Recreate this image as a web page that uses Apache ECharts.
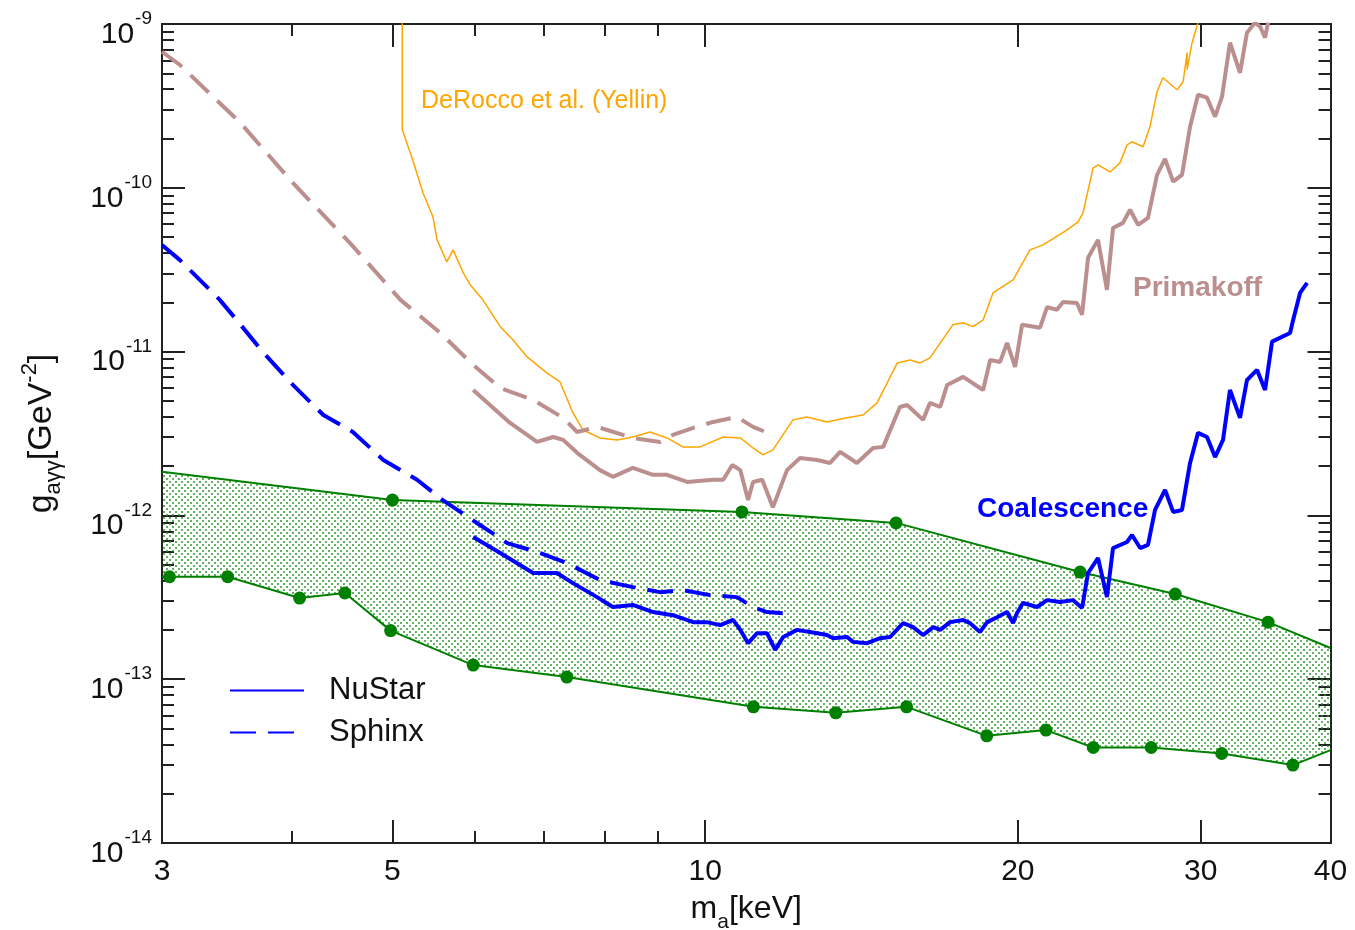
<!DOCTYPE html>
<html>
<head>
<meta charset="utf-8">
<script src="https://cdn.jsdelivr.net/npm/echarts@6/dist/echarts.min.js"></script>
<style>
  html, body { margin: 0; padding: 0; background: #fff; }
  #main { width: 1355px; height: 930px; }
</style>
</head>
<body>
<div id="main"></div>
<script>
// axis range (keV, GeV^-2)
const massRange = [3, 40];
const couplingRange = [1e-14, 1e-9];
const massLabels = [3, 5, 10, 20, 30, 40];
const massMajorTicks = [5, 10, 20, 30];
const massMinorTicks = [4, 6, 7, 8, 9];
const decadeLabels = [-14, -13, -12, -11, -10, -9];

// [m_a keV, g GeV^-2]
const nustar = [
  [5.98, 7.38e-13], [6.35, 5.89e-13], [6.83, 4.45e-13], [7.20, 4.45e-13], [7.46, 3.86e-13],
  [7.87, 3.17e-13], [8.15, 2.76e-13], [8.52, 2.84e-13], [8.91, 2.57e-13], [9.31, 2.46e-13],
  [9.74, 2.23e-13], [10.04, 2.23e-13], [10.34, 2.14e-13], [10.64, 2.30e-13], [10.81, 2.00e-13],
  [11.00, 1.66e-13], [11.22, 1.91e-13], [11.47, 1.91e-13], [11.68, 1.51e-13], [11.89, 1.81e-13],
  [12.26, 2.00e-13], [12.62, 1.94e-13], [13.10, 1.86e-13], [13.28, 1.78e-13], [13.70, 1.81e-13],
  [13.88, 1.69e-13], [14.32, 1.66e-13], [14.74, 1.78e-13], [15.07, 1.81e-13], [15.51, 2.20e-13],
  [15.86, 2.08e-13], [16.21, 1.86e-13], [16.58, 2.08e-13], [16.84, 2.00e-13], [17.21, 2.23e-13],
  [17.72, 2.30e-13], [17.99, 2.20e-13], [18.39, 1.94e-13], [18.69, 2.23e-13], [19.10, 2.39e-13],
  [19.53, 2.57e-13], [19.79, 2.20e-13], [19.96, 2.53e-13], [20.23, 2.92e-13], [20.87, 2.76e-13],
  [21.34, 3.04e-13], [21.96, 2.96e-13], [22.60, 3.04e-13], [23.06, 2.72e-13], [23.37, 4.45e-13],
  [23.89, 5.49e-13], [24.37, 3.17e-13], [24.70, 6.32e-13], [25.48, 6.88e-13], [25.76, 7.59e-13],
  [26.23, 6.32e-13], [26.69, 6.60e-13], [27.11, 1.08e-12], [27.72, 1.43e-12], [28.22, 1.05e-12],
  [28.78, 1.08e-12], [29.30, 2.09e-12], [29.82, 3.19e-12], [30.42, 3.01e-12], [30.97, 2.27e-12],
  [31.52, 2.89e-12], [32.01, 5.83e-12], [32.73, 3.94e-12], [33.24, 6.71e-12], [33.99, 7.73e-12],
  [34.60, 5.83e-12], [35.14, 1.15e-11], [36.57, 1.30e-11], [36.82, 1.56e-11], [37.39, 2.28e-11],
  [37.98, 2.63e-11]
];

const sphinx = [
  [3.00, 4.48e-11], [3.12, 3.63e-11], [3.41, 2.07e-11], [3.54, 1.56e-11], [3.75, 9.96e-12],
  [4.01, 6.26e-12], [4.29, 4.10e-12], [4.58, 3.23e-12], [4.90, 2.18e-12], [5.28, 1.65e-12],
  [5.59, 1.24e-12], [6.03, 8.99e-13], [6.45, 6.78e-13], [6.94, 5.89e-13], [7.36, 5.12e-13],
  [7.92, 4.03e-13], [8.52, 3.65e-13], [9.05, 3.40e-13], [9.52, 3.50e-13], [10.11, 3.26e-13],
  [10.73, 3.17e-13], [11.12, 2.76e-13], [11.47, 2.57e-13], [11.89, 2.53e-13]
];

const primakoffNustar = [
  [5.98, 5.83e-12], [6.49, 3.67e-12], [6.89, 2.81e-12], [7.14, 3.01e-12], [7.30, 2.89e-12],
  [7.53, 2.41e-12], [7.92, 1.89e-12], [8.15, 1.72e-12], [8.52, 1.95e-12], [8.91, 1.77e-12],
  [9.19, 1.77e-12], [9.61, 1.60e-12], [10.18, 1.65e-12], [10.41, 1.65e-12], [10.62, 2.03e-12],
  [10.81, 1.89e-12], [11.00, 1.24e-12], [11.12, 1.60e-12], [11.35, 1.65e-12], [11.62, 1.12e-12],
  [11.99, 1.89e-12], [12.34, 2.24e-12], [12.82, 2.18e-12], [13.19, 2.09e-12], [13.49, 2.44e-12],
  [14.00, 2.09e-12], [14.51, 2.58e-12], [14.84, 2.62e-12], [15.40, 4.59e-12], [15.65, 4.72e-12],
  [16.21, 3.83e-12], [16.46, 4.86e-12], [16.84, 4.59e-12], [17.10, 6.26e-12], [17.72, 7.01e-12],
  [18.52, 5.83e-12], [18.81, 8.89e-12], [19.23, 8.65e-12], [19.53, 1.13e-11], [19.88, 8.06e-12],
  [20.19, 1.46e-11], [21.01, 1.40e-11], [21.34, 1.87e-11], [21.81, 1.80e-11], [22.11, 2.01e-11],
  [22.80, 1.98e-11], [23.06, 1.68e-11], [23.37, 3.74e-11], [23.89, 4.81e-11], [24.37, 2.38e-11],
  [24.70, 5.69e-11], [25.25, 6.11e-11], [25.65, 7.34e-11], [26.11, 5.94e-11], [26.69, 6.56e-11],
  [27.23, 1.20e-10], [27.72, 1.50e-10], [28.22, 1.09e-10], [28.78, 1.20e-10], [29.30, 2.36e-10],
  [29.82, 3.70e-10], [30.42, 3.55e-10], [30.97, 2.72e-10], [31.45, 3.60e-10], [32.01, 7.69e-10],
  [32.73, 5.04e-10], [33.24, 8.85e-10], [33.84, 1.02e-9], [34.22, 9.63e-10], [34.60, 8.25e-10],
  [34.83, 1.02e-9]
];

const primakoffSphinx = [
  [3.00, 6.77e-10], [3.12, 5.64e-10], [3.57, 2.49e-10], [4.01, 1.07e-10], [4.55, 4.61e-11],
  [5.09, 2.07e-11], [5.56, 1.30e-11], [5.98, 8.29e-12], [6.35, 6.00e-12], [6.83, 5.07e-12],
  [7.30, 3.94e-12], [7.53, 3.23e-12], [7.87, 3.47e-12], [8.52, 2.97e-12], [9.05, 2.81e-12],
  [9.31, 3.10e-12], [9.74, 3.42e-12], [10.18, 3.72e-12], [10.73, 3.99e-12], [11.12, 3.47e-12],
  [11.62, 3.10e-12]
];

const derocco = [
  [5.11, 1.05e-9], [5.11, 2.26e-10], [5.23, 1.48e-10], [5.35, 9.32e-11], [5.47, 6.65e-11],
  [5.52, 4.81e-11], [5.64, 3.53e-11], [5.72, 4.18e-11], [5.85, 3.02e-11], [5.94, 2.56e-11],
  [6.11, 2.07e-11], [6.35, 1.42e-11], [6.53, 1.18e-11], [6.74, 9.28e-12], [7.04, 7.41e-12],
  [7.25, 6.53e-12], [7.46, 4.22e-12], [7.63, 3.32e-12], [7.92, 2.97e-12], [8.23, 2.89e-12],
  [8.52, 3.01e-12], [8.85, 3.23e-12], [9.19, 2.97e-12], [9.52, 2.62e-12], [9.89, 2.62e-12],
  [10.41, 3.01e-12], [10.81, 2.97e-12], [11.12, 2.58e-12], [11.37, 2.34e-12], [11.62, 2.51e-12],
  [12.15, 3.83e-12], [12.53, 3.99e-12], [13.10, 3.72e-12], [13.70, 3.94e-12], [14.19, 4.10e-12],
  [14.64, 4.86e-12], [15.31, 8.53e-12], [15.75, 8.89e-12], [16.10, 8.53e-12], [16.46, 9.15e-12],
  [17.32, 1.46e-11], [17.72, 1.50e-11], [18.11, 1.42e-11], [18.52, 1.56e-11], [18.93, 2.28e-11],
  [19.79, 2.74e-11], [20.55, 4.18e-11], [21.15, 4.48e-11], [22.31, 5.54e-11], [22.86, 6.20e-11],
  [23.11, 7.04e-11], [23.63, 1.32e-10], [23.89, 1.38e-10], [24.54, 1.25e-10], [25.08, 1.42e-10],
  [25.48, 1.83e-10], [25.76, 1.91e-10], [26.40, 1.78e-10], [26.81, 2.36e-10], [27.23, 3.86e-10],
  [27.59, 4.70e-10], [28.47, 3.97e-10], [28.85, 4.44e-10], [29.11, 6.68e-10], [29.11, 5.26e-10],
  [29.43, 7.69e-10], [29.82, 1.02e-9]
];

// coalescence band, first/last point of each edge carry no dot
const bandUpper = [
  [3.00, 1.85e-12], [5.00, 1.24e-12], [10.85, 1.05e-12], [15.27, 9.0e-13], [22.96, 4.51e-13],
  [28.35, 3.31e-13], [34.83, 2.23e-13], [40.0, 1.55e-13]
];
const bandLower = [
  [3.00, 4.22e-13], [3.05, 4.22e-13], [3.47, 4.22e-13], [4.07, 3.13e-13], [4.50, 3.36e-13],
  [4.98, 1.98e-13], [5.98, 1.22e-13], [7.36, 1.03e-13], [11.13, 6.78e-14], [13.36, 6.23e-14],
  [15.63, 6.78e-14], [18.67, 4.51e-14], [21.29, 4.89e-14], [23.64, 3.83e-14], [26.88, 3.83e-14],
  [31.43, 3.52e-14], [36.8, 2.99e-14], [40.0, 3.69e-14]
];

const FONT = '"Liberation Sans", Arial, Helvetica, sans-serif';
const lg = Math.log10;
const toLog = arr => arr.map(p => [lg(p[0]), lg(p[1])]);

// dotted fill for the band
function dotPattern() {
  const c = document.createElement('canvas');
  c.width = 6; c.height = 6;
  const ctx = c.getContext('2d');
  ctx.fillStyle = 'rgba(30,150,30,0.7)';
  ctx.fillRect(1, 1, 2, 2);
  ctx.fillRect(4, 4, 2, 2);
  return { image: c, repeat: 'repeat' };
}

const xMin = lg(massRange[0]), xMax = lg(massRange[1]);
const yMin = lg(couplingRange[0]), yMax = lg(couplingRange[1]);

const yMajor = [];
const yMinor = [];
for (let n = -14; n < -9; n++) {
  if (n > -14) yMajor.push(n);
  for (let k = 2; k <= 9; k++) yMinor.push(n + lg(k));
}

const axisColor = '#222';

function xAxisOf(pos, ticks, len, withLabels) {
  return {
    type: 'value', position: pos, min: xMin, max: xMax,
    axisLine: { show: true, onZero: false, lineStyle: { color: axisColor, width: 2 } },
    axisTick: { show: true, inside: true, length: len, customValues: ticks.map(lg), lineStyle: { color: axisColor, width: 2 } },
    axisLabel: withLabels ? {
      show: true, customValues: massLabels.map(lg), margin: 14,
      formatter: v => String(Math.round(Math.pow(10, v))),
      fontSize: 30, fontFamily: FONT, color: '#111'
    } : { show: false },
    splitLine: { show: false }
  };
}

function yAxisOf(pos, ticks, len, withLabels) {
  return {
    type: 'value', position: pos, min: yMin, max: yMax,
    axisLine: { show: true, onZero: false, lineStyle: { color: axisColor, width: 2 } },
    axisTick: { show: true, inside: true, length: len, customValues: ticks, lineStyle: { color: axisColor, width: 2 } },
    axisLabel: withLabels ? {
      show: true, customValues: decadeLabels, margin: 10,
      padding: [11, 0, 0, 0],
      formatter: v => '{a|10}{b|' + Math.round(v) + '}',
      rich: {
        a: { fontSize: 30, fontFamily: FONT, color: '#111', lineHeight: 40, verticalAlign: 'bottom' },
        b: { fontSize: 19, fontFamily: FONT, color: '#111', lineHeight: 40, verticalAlign: 'top', padding: [0, 0, 0, 1] }
      }
    } : { show: false },
    splitLine: { show: false }
  };
}

const xAxes = [
  xAxisOf('bottom', massMajorTicks, 23, true),
  xAxisOf('bottom', massMinorTicks, 12, false),
  xAxisOf('top', massMajorTicks, 23, false),
  xAxisOf('top', massMinorTicks, 12, false)
];
xAxes[0].name = '{m|m}{s|a}{m|[keV]}';
xAxes[0].nameLocation = 'middle';
xAxes[0].nameGap = 50;
xAxes[0].nameTextStyle = {
  rich: {
    m: { fontSize: 32, fontFamily: FONT, color: '#111', lineHeight: 40, verticalAlign: 'top' },
    s: { fontSize: 21, fontFamily: FONT, color: '#111', lineHeight: 40, verticalAlign: 'bottom' }
  }
};

const yAxes = [
  yAxisOf('left', yMajor, 23, true),
  yAxisOf('left', yMinor, 12, false),
  yAxisOf('right', yMajor, 23, false),
  yAxisOf('right', yMinor, 12, false)
];
yAxes[0].name = '{g|g}{s|a\u03b3\u03b3}{g|[GeV}{p|-2}{g|]}';
yAxes[0].nameLocation = 'middle';
yAxes[0].nameRotate = 90;
yAxes[0].nameGap = 97;
yAxes[0].nameTextStyle = {
  rich: {
    g: { fontSize: 34, fontFamily: FONT, color: '#111', lineHeight: 46 },
    s: { fontSize: 22, fontFamily: FONT, color: '#111', lineHeight: 46, verticalAlign: 'bottom' },
    p: { fontSize: 22, fontFamily: FONT, color: '#111', lineHeight: 46, verticalAlign: 'top' }
  }
};

const bandPolygon = toLog(bandUpper).concat(toLog(bandLower).reverse());

function bandLine(arr) {
  return toLog(arr).map((p, i) => ({
    value: p,
    symbol: (i === 0 || i === arr.length - 1) ? 'none' : 'circle'
  }));
}

const chart = echarts.init(document.getElementById('main'), null, { renderer: 'canvas' });

chart.setOption({
  animation: false,
  backgroundColor: '#fff',
  grid: { left: 162, top: 24, right: 24.5, bottom: 87, containLabel: false, outerBoundsMode: 'none' },
  xAxis: xAxes,
  yAxis: yAxes,
  legend: {
    data: ['NuStar', 'Sphinx'],
    orient: 'vertical', left: 229, top: 675, padding: 0,
    itemWidth: 74, itemHeight: 30, itemGap: 11,
    itemStyle: { opacity: 0 },
    textStyle: { fontSize: 31, fontFamily: FONT, color: '#111', lineHeight: 30, padding: [0, 0, 0, 20] },
    selectedMode: false
  },
  graphic: [
    { type: 'text', left: 421, top: 89, style: { text: 'DeRocco et al. (Yellin)', fill: '#FFA500', font: '25px ' + FONT } },
    { type: 'text', left: 1133, top: 274, style: { text: 'Primakoff', fill: '#BC8F8F', font: 'bold 28px ' + FONT } },
    { type: 'text', left: 977, top: 495, style: { text: 'Coalescence', fill: '#0000FF', font: 'bold 28px ' + FONT } }
  ],
  series: [
    {
      name: 'band', type: 'custom', z: 1, clip: true,
      data: bandPolygon,
      renderItem: (params, api) => {
        if (params.dataIndex !== 0) return null;
        const pts = bandPolygon.map(p => api.coord(p));
        return { type: 'polygon', shape: { points: pts }, style: { fill: dotPattern(), stroke: null } };
      }
    },
    {
      name: 'bandUpper', type: 'line', z: 2, data: bandLine(bandUpper),
      symbolSize: 13, itemStyle: { color: '#008000' },
      lineStyle: { color: '#008000', width: 2 }
    },
    {
      name: 'bandLower', type: 'line', z: 2, data: bandLine(bandLower),
      symbolSize: 13, itemStyle: { color: '#008000' },
      lineStyle: { color: '#008000', width: 2 }
    },
    {
      name: 'DeRocco', type: 'line', z: 3, data: toLog(derocco), showSymbol: false, symbol: 'none',
      lineStyle: { color: '#FFA500', width: 1.5 }
    },
    {
      name: 'PrimakoffSphinx', type: 'line', z: 3, data: toLog(primakoffSphinx), showSymbol: false, symbol: 'none',
      lineStyle: { color: '#BC8F8F', width: 4, type: [25, 12] }
    },
    {
      name: 'PrimakoffNustar', type: 'line', z: 3, data: toLog(primakoffNustar), showSymbol: false, symbol: 'none',
      lineStyle: { color: '#BC8F8F', width: 4 }
    },
    {
      name: 'Sphinx', type: 'line', z: 4, data: toLog(sphinx), showSymbol: false, symbol: 'none',
      itemStyle: { color: '#0000FF' },
      lineStyle: { color: '#0000FF', width: 4, type: [26, 12] }
    },
    {
      name: 'NuStar', type: 'line', z: 4, data: toLog(nustar), showSymbol: false, symbol: 'none',
      itemStyle: { color: '#0000FF' },
      lineStyle: { color: '#0000FF', width: 4 }
    }
  ]
});
</script>
</body>
</html>
